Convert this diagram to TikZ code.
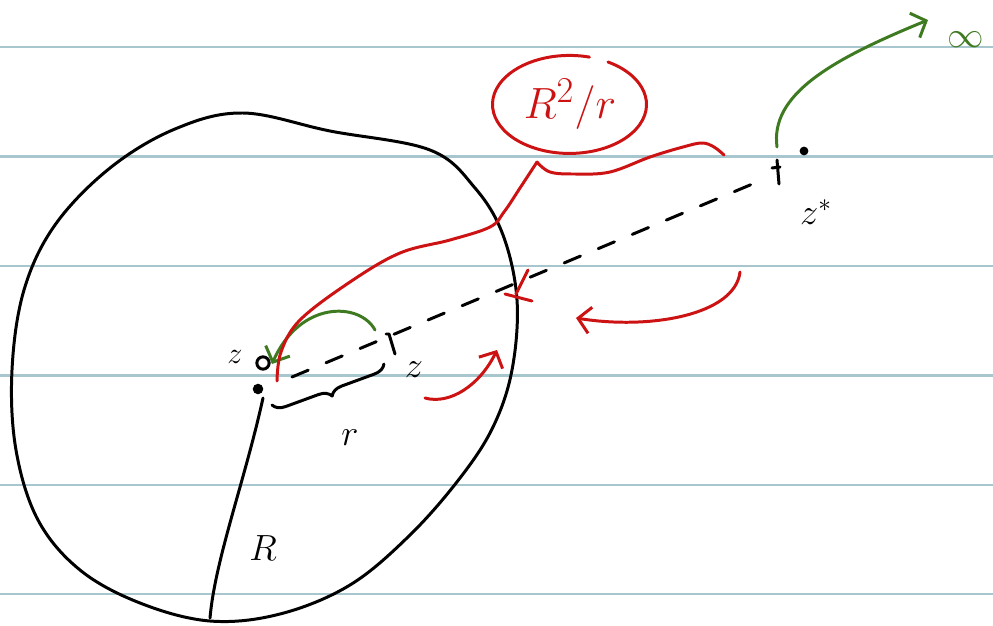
\documentclass[tikz,border=0pt]{standalone}
\usetikzlibrary{calc,arrows,arrows.meta,decorations.pathreplacing}
\definecolor{inkred}{RGB}{204,18,18}
\definecolor{inkgreen}{RGB}{62,122,32}
\definecolor{ruleblue}{RGB}{168,198,205}
\tikzset{
  ink/.style={line width=1.7pt, line cap=round, line join=round},
  rule/.style={line width=1.4pt, color=ruleblue},
  dashray/.style={ink, dash pattern=on 10pt off 11pt},
  bracedeco/.style={ink, decoration={brace, mirror, amplitude=7pt}, decorate},
  dotmark/.style={circle, fill, inner sep=0pt, minimum size=5pt},
  hand/.style={inner sep=0pt},
}
\begin{document}
\begin{tikzpicture}[x=0.02cm,y=-0.02cm,>={Straight Barb[length=7pt,width=15pt]}]
\useasboundingbox (0,0) rectangle (993,625);
\foreach \y in {47,156.5,266,375.5,485,594}
  \draw[rule] (0,\y) -- (993,\y);
\draw[ink] plot[smooth cycle, tension=0.6] coordinates {
  (243,113) (330,131) (430,150) (475,188) (503,235)
  (517,300) (512,370) (493,427) (460,478) (410,535)
  (350,585) (280,614) (210,621) (140,603) (80,570)
  (38,520) (16,450) (12,370) (24,290) (55,225)
  (110,168) (175,129)};
\coordinate (O) at (258,389);
\coordinate (Otop) at (263,398);
\coordinate (B) at (210,618);
\coordinate (z) at (386,334);
\coordinate (zs) at (778,172);
\coordinate (rayA) at (292,377);
\coordinate (rayB) at (762,180);
\coordinate (brA) at (272,405);
\coordinate (brB) at (384,364);
\node[dotmark, minimum size=6pt] (o) at (O) {};
\node[circle, draw, ink, inner sep=0pt, minimum size=7pt] (zo) at (263,363) {};
\node[hand, font=\LARGE] (zl) at (235,357) {$z$};
\draw[ink] (Otop) .. controls (245,480) and (215,560) .. (B);
\node[hand, font=\huge] (Rl) at (263,548) {$R$};
\draw[dashray] (rayA) -- (rayB);
\draw[ink] (z) -- ++(3,0) -- ++(6,20);
\node[hand, font=\huge] (zn) at (414,370) {$z$};
\draw[bracedeco] (brA) -- (brB);
\node[hand, font=\huge] (rl) at (350,438) {$r$};
\draw[ink] (zs) ++(-1,-12) -- ++(2,24);
\draw[ink] (zs) ++(-6,-4) -- ++(8,-1);
\node[dotmark] (zsd) at (804,151) {};
\node[hand, font=\huge] (zsl) at (816,212) {$z^{*}$};
% green arrows
\draw[ink, inkgreen, ->] (375,330) .. controls (360,302) and (300,300) .. (272,364);
\draw[ink, inkgreen, ->] (777,147) .. controls (770,95) and (830,60) .. (928,20);
\node[hand, font=\huge, inkgreen] (inf) at (966,40) {$\infty$};
% red marks
\draw[ink, inkred] plot[smooth, tension=0.6] coordinates {
  (277,381) (281,352) (300,320) (350,282) (400,253) (450,240)
  (490,227) (504,212) (520,188) (537,162)};
\draw[ink, inkred] plot[smooth, tension=0.6] coordinates {
  (537,162) (550,172) (575,174) (610,172) (650,157) (683,147)
  (702,143) (714,147) (724,155)};
\node[hand, inkred, font=\fontsize{28}{30}\selectfont] (ratio) at (570,104) {$R^2/r$};
\draw[ink, inkred] (ratio) ++(38,-42) arc[start angle=-60, end angle=285, x radius=77, y radius=49];
\draw[ink, inkred] (528,270) -- (516,294);
\draw[ink, inkred] (505,294) -- (532,301);
\coordinate (X) at (516,294);
\draw[ink, inkred, ->] (425,398) .. controls (450,405) and (480,385) .. (497,350);
\draw[ink, inkred, ->] (740,272) .. controls (735,315) and (650,330) .. (576,318);
\end{tikzpicture}
\end{document}
